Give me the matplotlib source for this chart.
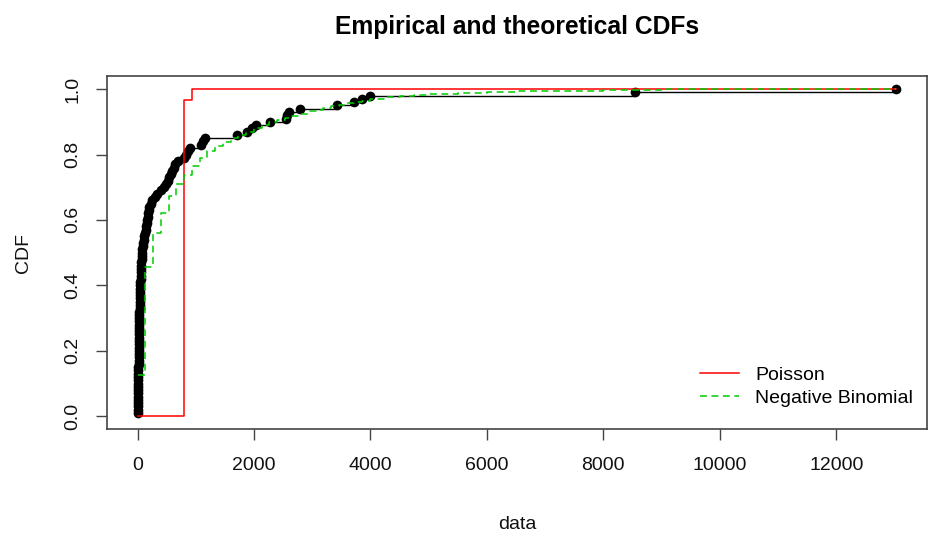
import matplotlib
matplotlib.use("Agg")
import matplotlib.pyplot as plt
from matplotlib.lines import Line2D
import numpy as np

plt.rcParams['font.family'] = ['Liberation Sans', 'DejaVu Sans']

# ---------------- data ----------------
data_values = [
    0, 1, 2, 3, 4, 5, 6, 7, 8, 9, 10, 11, 12, 13, 14, 15, 16, 17, 18, 19,
    20, 21, 22, 23, 24, 25, 26, 27, 28,
    29, 30, 31, 33, 34, 36, 38, 40, 42, 44,
    46, 48, 50, 53, 56, 59, 62, 65,
    68, 72, 76, 81, 87, 94, 103, 115,
    128, 138, 147, 156, 164, 172, 180, 188,
    200, 225, 255, 300, 340,
    400, 450, 490, 520, 545, 565, 590, 620, 650, 690,
    790, 830, 860, 900, 1080, 1120, 1160,
    1710, 1880, 1960, 2040, 2270, 2540, 2570, 2600, 2790,
    3420, 3720, 3850, 4000, 8550, 13030,
]

nb_x = [0, 133, 266, 399, 532, 665, 798, 931, 1064, 1197, 1330, 1463, 1596,
        1729, 1862, 1995, 2128, 2261, 2394, 2527, 2660, 2793, 2926, 3059,
        3192, 3325, 3458, 3591, 3724, 3857, 3990, 4250, 4500, 4750, 5000,
        5250, 5500, 5750, 6000, 6500, 7000, 8000, 9000, 13030]
nb_cdf = [0.127, 0.456, 0.559, 0.620, 0.674, 0.710, 0.738, 0.765, 0.790,
          0.810, 0.826, 0.839, 0.850, 0.859, 0.868, 0.880, 0.890, 0.898,
          0.905, 0.911, 0.918, 0.924, 0.932, 0.937, 0.942, 0.947, 0.952,
          0.956, 0.960, 0.965, 0.969, 0.975, 0.979, 0.982, 0.984, 0.986,
          0.988, 0.989, 0.991, 0.993, 0.995, 0.997, 0.999, 1.000]

pois_x = [0, 800, 930, 13030]
pois_cdf = [0.0, 0.968, 1.0, 1.0]

x_ticks = [0, 2000, 4000, 6000, 8000, 10000, 12000]
y_ticks = [0.0, 0.2, 0.4, 0.6, 0.8, 1.0]
y_tick_labels = ["0.0", "0.2", "0.4", "0.6", "0.8", "1.0"]
legend_labels = ["Poisson", "Negative Binomial"]
title_text = "Empirical and theoretical CDFs"
x_label = "data"
y_label = "CDF"

# ---------------- figure ----------------
W, H = 936, 542
fig = plt.figure(figsize=(W / 100, H / 100), dpi=100)
left, right, top, bottom = 107.3, 926.5, 76.0, 429.3
ax = fig.add_axes([left / W, 1 - bottom / H, (right - left) / W, (bottom - top) / H])

vals = np.sort(np.array(data_values, dtype=float))
n = len(vals)
ux, counts = np.unique(vals, return_counts=True)
F = np.cumsum(counts) / n

ax.hlines(F[:-1], ux[:-1], ux[1:], colors='black', lw=1.0, zorder=2)
ax.plot(ux, F, 'o', color='black', ms=7, mec='black', mew=0, zorder=3)

ax.plot(pois_x, pois_cdf, drawstyle='steps-post', color='#FF0000', lw=1.1, zorder=4)
ax.plot(nb_x, nb_cdf, drawstyle='steps-post', color='#00CD00', lw=1.1,
        dashes=(4.5, 3), zorder=5)

xmin, xmax = min(data_values), max(data_values)
xr = xmax - xmin
ax.set_xlim(xmin - 0.04 * xr, xmax + 0.04 * xr)
ax.set_ylim(-0.04, 1.04)

ax.set_xticks(x_ticks)
ax.set_xticklabels([str(t) for t in x_ticks])
ax.set_yticks(y_ticks)
ax.set_yticklabels(y_tick_labels, rotation=90, va='center')

box_col = '#444444'
for s in ax.spines.values():
    s.set_color(box_col)
    s.set_linewidth(1.2)
ax.tick_params(axis='both', direction='out', length=7.7, width=1.0,
               color=box_col, labelsize=14, labelcolor='#111111')
ax.tick_params(axis='x', pad=12)
ax.tick_params(axis='y', pad=11)

fig.text(517 / W, 1 - 27 / H, title_text, ha='center', va='center',
         fontsize=17.7, fontweight='bold', color='black')
fig.text(517 / W, 1 - 529 / H, x_label, ha='center', va='baseline',
         fontsize=14, color='#111111')
fig.text(23.5 / W, 1 - 252.5 / H, y_label, ha='center', va='center',
         rotation=90, fontsize=14, color='#111111')

handles = [Line2D([], [], color='#FF0000', lw=1.1),
           Line2D([], [], color='#00CD00', lw=1.1, dashes=(4.5, 3))]
ax.legend(handles, legend_labels, loc='upper left',
          bbox_to_anchor=(700 / W, 1 - 366 / H), bbox_transform=fig.transFigure,
          frameon=False, borderpad=0, borderaxespad=0, handlelength=2.0,
          handletextpad=0.85, labelspacing=0.3, fontsize=14)

fig.savefig("out.png", dpi=100)
